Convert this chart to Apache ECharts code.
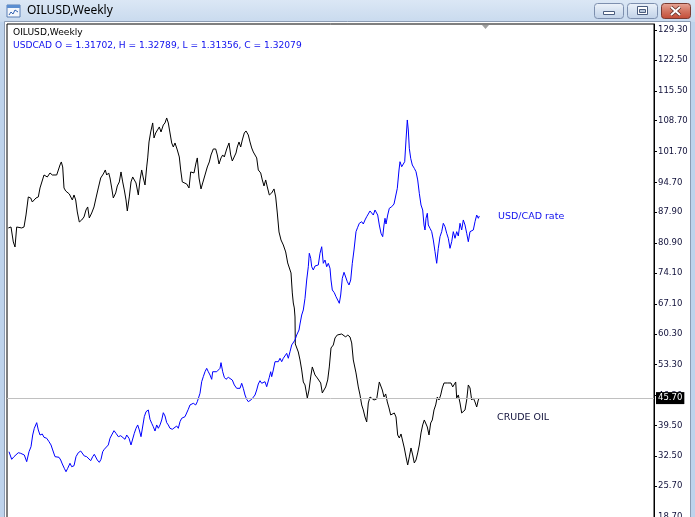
<!DOCTYPE html>
<html><head><meta charset="utf-8">
<script src="https://cdn.jsdelivr.net/npm/echarts@6/dist/echarts.min.js"></script>
<style>html,body{margin:0;padding:0;background:#fff}#c{width:695px;height:517px}</style>
</head><body><div id="c"></div>
<script>
// ---- data (weeks since start of visible window, prices) ----
const oilWeek = [0.65,2,3.15,4,4.85,5.65,7.35,8.5,9.5,10.65,
11.85,12.65,13.65,14.5,15.65,16.5,17.35,18.5,19.35,20.15,
21.5,22.65,23.65,24.85,25.65,26.5,27.15,27.85,28.5,29.35,
30.35,31.15,32,32.65,33.5,34.35,35.15,36.15,37.35,38.5,
39.5,40.35,41.15,42.35,43.5,44.5,45.65,46.85,48.15,49.15,
49.85,50.85,51.5,52.35,53.15,54.35,55.15,56.15,57,57.85,
58.65,59.5,60.15,61.15,62,62.85,63.65,64.5,65.65,66.5,
67.35,68.15,69,69.85,70.35,71,71.85,72.85,73.5,74.35,
75.35,76.15,77,78.15,79,79.85,80.65,81.5,82.35,83.15,
84,85.15,86.15,86.85,87.65,88.65,89.85,91,91.85,92.85,
93.5,94.5,95.15,96,97,97.85,99,100.15,101.15,102,
103.15,104.35,105.15,106,107,107.85,108.65,109.85,111,111.85,
112.65,113.65,114.5,115.15,116,116.85,117.65,118.65,119.5,120.65,
121.5,122.35,123.15,124,124.85,125.65,126.85,127.65,128.5,129.35,
130.15,131.15,132.35,133.5,134.35,135.15,136,137,138.15,139.35,
140.35,141.15,142,142.65,143.15,143.65,144,144.15,144.85,145.65,
146.5,147.35,148.15,149,150.15,151,151.85,152.65,153.15,154,
155.15,156.15,156.85,157.65,158.5,159.35,160.35,161.15,162,163.15,
164,165.15,166.15,167.35,168.15,169.35,170.35,171.5,172.35,173.15,
174.5,175.65,176.5,177.35,178.15,179,179.85,180.65,181.5,182.35,
183.5,184.85,185.65,186.15,186.85,187.65,188.5,189.35,190.15,191,
191.85,192.85,193.65,194.5,195.35,196.15,197,197.85,198.65,199.5,
200.35,201.15,202,202.85,203.65,204.5,205.35,206.15,207,207.85,
208.65,209.35,210.15,211,211.85,212.65,213.5,214.35,215.15,216,
216.85,217.65,218.5,219.35,220.15,221.15,222,222.85,223.5,224.35,
224.85,225.65,226.5,227.35,228.15,229,229.85,230.65,231.5,232.35,
233.15,234,234.85,235.65,236.15];
const oilPrice = [84.34,84.56,81.16,80.02,84.56,84.79,84.34,84.56,87.29,91.38,
91.15,90.24,90.02,91.15,91.38,93.42,93.65,96.37,96.6,95.92,
96.83,96.37,96.6,96.37,96.6,98.65,99.33,98.19,93.42,92.74,
92.51,92.06,92.29,90.7,91.83,90.7,87.97,85.7,86.15,86.84,
88.43,89.11,86.61,87.74,89.11,91.15,93.42,95.69,96.6,97.51,
96.37,96.83,95.69,93.42,91.15,92.29,93.88,94.79,97.06,94.79,
92.97,90.7,88.2,91.38,94.79,95.92,96.15,94.56,91.83,95.24,
97.51,95.69,94.1,98.19,100.24,103.87,106.14,108.19,104.78,105.91,
106.14,107.28,106.14,107.73,108.19,109.32,108.19,105.91,103.64,102.73,
103.64,102.05,100.46,97.51,94.79,94.56,94.33,93.42,97.06,97.51,
96.83,99.1,100.24,95.69,93.2,94.56,96.37,98.19,99.33,100.92,
102.28,102.28,100.92,98.87,100.24,100.92,100.46,102.28,103.64,100.92,
99.55,99.78,101.37,102.73,103.87,102.73,104.32,105.91,106.37,105.46,
103.87,102.51,101.6,102.05,100.24,97.51,96.83,95.24,93.88,95.24,
93.65,91.83,92.29,93.2,91.38,87.74,83.43,81.61,80.48,78.89,
76.39,76.62,74.12,69.58,67.3,66.17,64.12,57.99,57.76,56.17,
54.36,52.09,49.36,48.68,45.73,47.54,50.5,52.77,53.22,50.95,
50.27,50.5,49.13,46.86,46.86,48.23,49.82,52.77,57.08,57.76,
59.35,60.04,60.49,60.26,59.81,59.58,60.04,59.58,58.22,54.36,
51.41,48.23,46.41,44.14,43.0,41.41,40.28,44.59,45.95,45.73,
45.27,45.5,45.95,49.36,49.59,47.54,45.95,46.64,44.82,43.46,
41.87,41.87,42.32,41.41,37.32,36.64,37.55,37.78,34.37,32.33,
30.51,32.33,34.37,32.78,30.96,31.65,33.24,35.05,37.78,39.6,
40.73,41.18,39.14,37.32,40.05,40.73,43.0,44.14,45.95,45.27,
46.41,48.0,49.13,49.36,49.13,49.36,49.13,48.23,48.0,49.36,
45.73,46.41,44.59,42.32,41.87,43.0,45.27,48.68,48.0,45.27,
45.73,44.82,43.68,45.27,45.7];
const cadWeek = [1,2.35,3.5,4.5,5.65,6.85,7.85,8.65,9.85,11,
12,12.85,13.65,14.85,15.65,16.5,17.65,18.5,19.85,21,
22,22.85,24,24.85,26,26.85,27.65,28.65,29.5,30.35,
31.5,32.35,33.5,34.5,35.65,36.85,37.85,38.65,39.85,40.65,
41.85,42.85,43.65,44.5,45.15,46.15,47,47.85,48.65,49.5,
50.65,51.5,52.35,53.5,54.5,55.65,56.85,57.85,59,59.85,
61,62,62.85,63.65,64.5,65.35,66.15,67,67.85,68.65,
69.5,70.65,71.5,72.35,73.15,74,74.85,75.65,76.5,77.35,
78.15,79,79.85,80.65,81.5,82.65,83.65,84.85,85.65,86.5,
87.35,88.15,89,89.85,90.65,91.5,92.35,93.15,94.35,95.15,
96.15,96.5,97.35,98.15,99,99.85,100.65,101.5,102.35,102.85,
103.65,104.85,105.65,106.5,107,107.85,108.65,109.5,110.65,111.5,
112.65,113.65,114.85,115.65,116.5,117.35,118.15,119,119.85,120.65,
121.5,122.35,123.15,124,124.85,125.65,126.5,127.35,128.15,129,
129.85,130.65,131.15,131.85,132.35,133.15,134,134.85,135.65,136.5,
137.35,138.15,139,139.85,140.65,141.5,142.35,143.15,144,144.85,
146,146.5,147.35,148.15,149,149.85,150.65,151.15,151.85,152.35,
153.15,154,154.85,155.65,156.5,157.35,158.15,159,159.85,160.65,
161.5,162,162.65,163.65,164.5,165.35,166.15,166.85,167.65,168.5,
169.35,170.15,171,171.85,172.65,173.5,174.5,175.35,176.15,177.35,
178.15,179,179.85,180.65,181.5,182.35,183.15,184,184.85,185.35,
186.15,187,187.85,188.5,189,189.5,190.35,191.15,192.35,193.5,
194.5,195.15,196,196.5,197.35,198.15,198.85,199.5,200.15,200.65,
201.15,201.85,202.65,203.65,204.5,205.35,206.15,207,207.85,208.5,
209,209.5,210.15,210.65,211.5,212.35,213.15,214,214.85,215.65,
216.5,217.35,218.15,219,219.85,220.65,221.5,222.35,223.15,224,
224.85,225.65,226.5,227.35,228.15,229,229.85,230.65,231.5,232.35,
233.15,234,234.85,235.65,236.15];
const cadRate = [0.9825,0.9716,0.9754,0.9778,0.9811,0.9802,0.9811,0.9778,0.9682,0.9825,
0.9897,1.0065,1.0161,1.0242,1.0137,1.0065,1.0079,1.0032,1.0018,0.9969,
0.9922,0.9850,0.9754,0.9731,0.9745,0.9706,0.9649,0.9587,0.9538,0.9587,
0.9659,0.9610,0.9624,0.9754,0.9811,0.9835,0.9835,0.9764,0.9754,0.9745,
0.9696,0.9754,0.9788,0.9792,0.9706,0.9673,0.9716,0.9825,0.9860,0.9874,
0.9922,1.0018,1.0065,1.0127,1.0089,1.0041,1.0055,1.0041,1.0003,1.0065,
1.0018,0.9922,0.9946,1.0089,1.0161,1.0209,1.0137,1.0041,1.0018,1.0328,
1.0399,1.0424,1.0290,1.0233,1.0184,1.0122,1.0209,1.0161,1.0209,1.0280,
1.0385,1.0338,1.0242,1.0209,1.0161,1.0147,1.0161,1.0194,1.0161,1.0256,
1.0305,1.0290,1.0328,1.0319,1.0434,1.0496,1.0481,1.0520,1.0496,1.0543,
1.0557,1.0664,1.0830,1.0902,1.0973,1.1022,1.0973,1.0926,1.0864,1.0973,
1.0988,1.0973,1.0973,1.1022,1.1103,1.0973,1.0893,1.0864,1.0893,1.0902,
1.0854,1.0783,1.0735,1.0744,1.0735,1.0807,1.0735,1.0639,1.0577,1.0543,
1.0543,1.0577,1.0592,1.0639,1.0711,1.0797,1.0844,1.0807,1.0783,1.0830,
1.0758,1.0758,1.0893,1.0973,1.0902,1.0998,1.1117,1.1141,1.1117,1.1166,
1.1117,1.1166,1.1189,1.1237,1.1166,1.1260,1.1357,1.1357,1.1428,1.1500,
1.1572,1.1658,1.1787,1.1859,1.2027,1.2289,1.2480,1.2673,1.2601,1.2480,
1.2433,1.2490,1.2480,1.2505,1.2673,1.2767,1.2529,1.2576,1.2480,1.2529,
1.2457,1.2289,1.2146,1.2107,1.2050,1.2002,1.1955,1.2074,1.2314,1.2400,
1.2386,1.2265,1.2218,1.2289,1.2529,1.2720,1.2983,1.3046,1.3103,1.3126,
1.3093,1.3151,1.3198,1.3237,1.3280,1.3270,1.3222,1.3294,1.3318,1.3222,
1.3079,1.2960,1.2911,1.3079,1.3175,1.3093,1.3222,1.3318,1.3341,1.3380,
1.3399,1.3605,1.3868,1.3987,1.3915,1.3892,1.3987,1.4299,1.4586,1.4442,
1.4180,1.4036,1.3940,1.3892,1.3844,1.3725,1.3534,1.3366,1.3294,1.3079,
1.3007,1.3175,1.3247,1.3079,1.3031,1.2983,1.2864,1.2696,1.2529,1.2744,
1.2911,1.2983,1.3103,1.3054,1.2960,1.2888,1.2744,1.2839,1.2983,1.2888,
1.2983,1.2921,1.3103,1.3007,1.3151,1.3079,1.2960,1.2839,1.2983,1.2997,
1.3007,1.3126,1.3222,1.3175,1.3208];
const priceTicks = [129.30,122.50,115.50,108.70,101.70,94.70,87.90,80.90,74.10,67.10,60.30,53.30,46.30,39.50,32.50,25.70,18.70];
const lastOil = 45.70;
const windowTitle = 'OILUSD,Weekly';
const overlayInfo = 'USDCAD O = 1.31702, H = 1.32789, L = 1.31356, C = 1.32079';
const oilName = 'CRUDE OIL';
const cadName = 'USD/CAD rate';

const chart = echarts.init(document.getElementById('c'), null, {renderer:'canvas'});
const G = echarts.graphic;
const btnGrad = new G.LinearGradient(0,0,0,1,[{offset:0,color:'#eef3fa'},{offset:0.5,color:'#d6e2f1'},{offset:1,color:'#c0d1e7'}]);
const btnGrad2 = new G.LinearGradient(0,0,0,1,[{offset:0,color:'#eef3fa'},{offset:0.5,color:'#d6e2f1'},{offset:1,color:'#c0d1e7'}]);
const closeGrad = new G.LinearGradient(0,0,0,1,[{offset:0,color:'#e9a99b'},{offset:0.5,color:'#d27461'},{offset:1,color:'#c24a35'}]);
const font = '"DejaVu Sans", sans-serif';

const option = {
  backgroundColor: '#ffffff',
  animation: false,
  grid: {left: 7, right: 41, top: 24, bottom: -2, outerBoundsMode: 'none', containLabel: false,
         show: true, borderColor: '#000', borderWidth: 1, backgroundColor: '#fff'},
  xAxis: {type: 'value', min: 0, max: 323.5, show: false},
  yAxis: [
    {type: 'value', position: 'right', min: 18.24, max: 130.663,
     axisLine: {show: true, onZero: false, lineStyle: {color: '#000', width: 1}},
     axisTick: {show: true, length: 3, customValues: priceTicks, lineStyle: {color: '#000'}},
     axisLabel: {customValues: priceTicks, formatter: v => v.toFixed(2), color: '#10103a', fontFamily: font, fontSize: 8.5, margin: 4},
     splitLine: {show: false}},
    {type: 'value', position: 'left', min: 0.88595, max: 1.59633, show: false,
     axisLine: {show: false, onZero: false}, axisTick: {show: false}, axisLabel: {show: false}, splitLine: {show: false}}
  ],
  series: [
    {type: 'line', name: oilName, yAxisIndex: 0, data: oilWeek.map((w,i)=>[w, oilPrice[i]]),
     symbol: 'none', silent: true, z: 3, lineStyle: {color: '#000', width: 1},
     markLine: {silent: true, symbol: 'none', animation: false,
       lineStyle: {color: '#c0c0c0', width: 1, type: 'solid'},
       label: {show: true, position: 'end', distance: 2, formatter: lastOil.toFixed(2), backgroundColor: '#000', color: '#fff', fontFamily: font, fontSize: 8.5, padding: [2,2,1,2]},
       data: [{yAxis: lastOil}]}},
    {type: 'line', name: cadName, yAxisIndex: 1, data: cadWeek.map((w,i)=>[w, cadRate[i]]),
     symbol: 'none', silent: true, z: 4, lineStyle: {color: '#0000ff', width: 1}}
  ],
  graphic: [
    {type:'rect', silent:true, shape:{x:0,y:0,width:695,height:22}, style:{fill: new G.LinearGradient(0,0,0,1,[{offset:0,color:'#dbe7f5'},{offset:1,color:'#c9daee'}])}},
    {type:'rect', silent:true, shape:{x:0,y:22,width:5,height:495}, style:{fill:'#bed3ec'}},
    {type:'rect', silent:true, shape:{x:690,y:22,width:5,height:495}, style:{fill:'#bed3ec'}},
    {type:'polyline', silent:true, shape:{points:[[4.5,517],[4.5,21.5],[690.5,21.5],[690.5,517]]}, style:{stroke:'#8c9cb3', fill:null, lineWidth:1}},
    // title icon
    {type:'rect', silent:true, shape:{x:7,y:5,width:13,height:12}, style:{fill:'#f4f7fb', stroke:'#5b7fb4', lineWidth:1}},
    {type:'rect', silent:true, shape:{x:7,y:5,width:13,height:3}, style:{fill:'#5b8ed0'}},
    {type:'polyline', silent:true, shape:{points:[[9,15],[11,12],[13,14],[15,10],[18,12]]}, style:{stroke:'#3060b0', fill:null, lineWidth:1}},
    {type:'text', silent:true, x:27, y:11, style:{text: windowTitle, font:'12px "Noto Sans", sans-serif', fill:'#000', verticalAlign:'middle'}},
    // buttons
    {type:'rect', silent:true, shape:{x:594.5,y:3.5,width:29,height:15,r:3}, style:{fill:btnGrad, stroke:'#7d8fae', lineWidth:1}},
    {type:'rect', silent:true, shape:{x:603.5,y:11.5,width:11,height:3}, style:{fill:'#fff', stroke:'#4b5d7e', lineWidth:1}},
    {type:'rect', silent:true, shape:{x:627.5,y:3.5,width:30,height:15,r:3}, style:{fill:btnGrad2, stroke:'#7d8fae', lineWidth:1}},
    {type:'rect', silent:true, shape:{x:637.5,y:6.5,width:10,height:8}, style:{fill:'#fff', stroke:'#4b5d7e', lineWidth:1}},
    {type:'rect', silent:true, shape:{x:639.5,y:9.5,width:6,height:3}, style:{fill:'#b9c8dc', stroke:'#4b5d7e', lineWidth:1}},
    {type:'rect', silent:true, shape:{x:661.5,y:3.5,width:29,height:15,r:3}, style:{fill:closeGrad, stroke:'#7a3b32', lineWidth:1}},
    {type:'line', silent:true, shape:{x1:671,y1:7,x2:680,y2:15}, style:{stroke:'#5a2a22', lineWidth:3.5}},
    {type:'line', silent:true, shape:{x1:680,y1:7,x2:671,y2:15}, style:{stroke:'#5a2a22', lineWidth:3.5}},
    {type:'line', silent:true, shape:{x1:671,y1:7,x2:680,y2:15}, style:{stroke:'#fff', lineWidth:2}},
    {type:'line', silent:true, shape:{x1:680,y1:7,x2:671,y2:15}, style:{stroke:'#fff', lineWidth:2}},
    // shift marker
    {type:'polygon', silent:true, shape:{points:[[482,25],[489,25],[485.5,29]]}, style:{fill:'#a0a0a0'}},
    // header texts
    {type:'text', silent:true, x:13, y:33, style:{text: windowTitle, font:'9.1px ' + font, fill:'#000', verticalAlign:'middle'}},
    {type:'text', silent:true, x:13, y:46, style:{text: overlayInfo, font:'9.1px ' + font, fill:'#1010ee', verticalAlign:'middle'}},
    // series labels
    {type:'text', silent:true, x:498, y:217, style:{text: cadName, font:'9.5px ' + font, fill:'#1010ee', verticalAlign:'middle'}},
    {type:'text', silent:true, x:497, y:418, style:{text: oilName, font:'9.5px ' + font, fill:'#10103a', verticalAlign:'middle'}}
  ]
};
chart.setOption(option);
</script>
</body></html>
